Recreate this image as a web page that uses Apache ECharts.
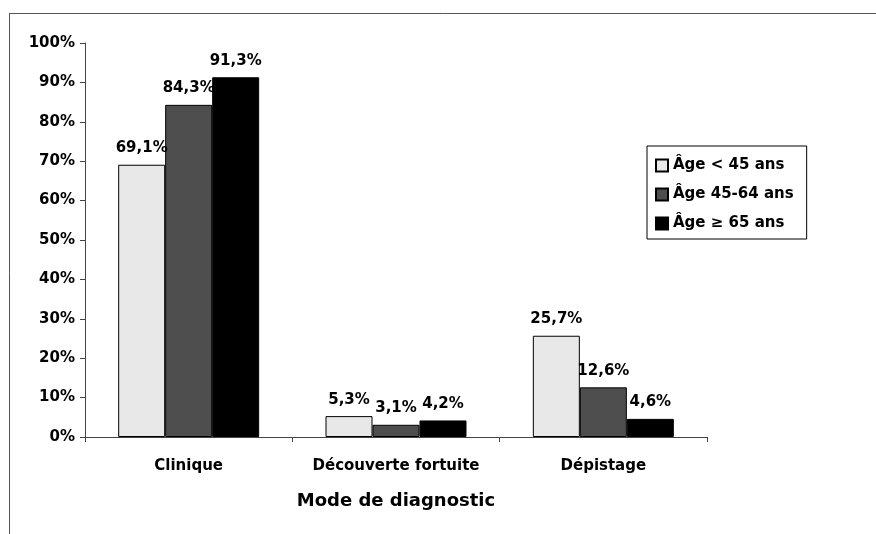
<!DOCTYPE html>
<html>
<head>
<meta charset="utf-8">
<script src="https://cdn.jsdelivr.net/npm/echarts@6/dist/echarts.min.js"></script>
<style>
html,body{margin:0;padding:0;background:#fff;}
#chart{width:876px;height:534px;}
</style>
</head>
<body>
<div id="chart"></div>
<script>
const categories = ['Clinique', 'Découverte fortuite', 'Dépistage'];
const seriesNames = ['Âge < 45 ans', 'Âge 45-64 ans', 'Âge ≥ 65 ans'];
const ageUnder45 = [69.1, 5.3, 25.7];
const age45to64 = [84.3, 3.1, 12.6];
const age65plus = [91.3, 4.2, 4.6];
const yTicks = [0, 10, 20, 30, 40, 50, 60, 70, 80, 90, 100];
const xAxisTitle = 'Mode de diagnostic';

const FONT = 'DejaVu Sans';
const colors = ['#e8e8e8', '#4e4e4e', '#000000'];
const values = [ageUnder45, age45to64, age65plus];

const chart = echarts.init(document.getElementById('chart'));
chart.setOption({
  animation: false,
  backgroundColor: '#ffffff',
  grid: { left: 85, right: 169, top: 43, bottom: 97 },
  legend: {
    orient: 'vertical',
    left: 647,
    top: 146,
    padding: [11, 13, 7, 8],
    borderColor: '#000',
    borderWidth: 1,
    itemWidth: 12,
    itemHeight: 12,
    itemGap: 12,
    icon: 'rect',
    textStyle: { fontFamily: FONT, fontWeight: 'bold', fontSize: 15, color: '#000', lineHeight: 17 },
    data: seriesNames
  },
  xAxis: {
    type: 'category',
    data: categories,
    name: xAxisTitle,
    nameLocation: 'middle',
    nameGap: 55,
    nameTextStyle: { fontFamily: FONT, fontWeight: 'bold', fontSize: 18, color: '#000' },
    axisLine: { lineStyle: { color: '#444', width: 1 } },
    axisTick: { show: true, alignWithLabel: false, length: 5, lineStyle: { color: '#444' } },
    axisLabel: { interval: 0, fontFamily: FONT, fontWeight: 'bold', fontSize: 15, color: '#000', margin: 22 }
  },
  yAxis: {
    type: 'value',
    min: yTicks[0],
    max: yTicks[yTicks.length - 1],
    interval: yTicks[1] - yTicks[0],
    axisLine: { show: true, lineStyle: { color: '#444', width: 1 } },
    axisTick: { show: true, length: 5, lineStyle: { color: '#444' } },
    splitLine: { show: false },
    axisLabel: { fontFamily: FONT, fontWeight: 'bold', fontSize: 15, color: '#000', margin: 10, formatter: '{value}%' }
  },
  series: seriesNames.map((name, i) => ({
    name: name,
    type: 'bar',
    data: values[i],
    barGap: '0%',
    barCategoryGap: '32%',
    itemStyle: { color: colors[i], borderColor: '#000', borderWidth: 1 },
    label: {
      show: true,
      position: 'top',
      distance: 9,
      fontFamily: FONT,
      fontWeight: 'bold',
      fontSize: 15,
      color: '#000',
      formatter: p => p.value.toFixed(1).replace('.', ',') + '%'
    }
  })),
  graphic: [
    { type: 'line', shape: { x1: 9, y1: 13.5, x2: 876, y2: 13.5 }, style: { stroke: '#555', lineWidth: 1 } },
    { type: 'line', shape: { x1: 9.5, y1: 13, x2: 9.5, y2: 534 }, style: { stroke: '#555', lineWidth: 1 } }
  ]
});
</script>
</body>
</html>
